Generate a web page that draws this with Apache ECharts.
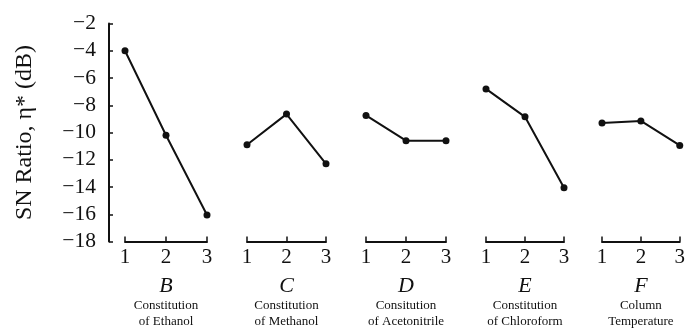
<!DOCTYPE html>
<html>
<head>
<meta charset="utf-8">
<script src="https://cdn.jsdelivr.net/npm/echarts@6/dist/echarts.min.js"></script>
<style>html,body{margin:0;padding:0;background:#fff;}#c{width:688px;height:333px;}</style>
</head>
<body>
<div id="c"></div>
<script>
const levels = [1, 2, 3];
const valuesB = [-4.0, -10.2, -16.05];
const valuesC = [-10.9, -8.65, -12.3];
const valuesD = [-8.75, -10.6, -10.6];
const valuesE = [-6.8, -8.85, -14.05];
const valuesF = [-9.3, -9.15, -10.95];
const factorLetters = ['B', 'C', 'D', 'E', 'F'];
const factorLine1 = ['Constitution', 'Constitution', 'Consitution', 'Constitution', 'Column'];
const factorLine2 = ['of Ethanol', 'of Methanol', 'of Acetonitrile', 'of Chloroform', 'Temperature'];
const yTicks = [-18, -16, -14, -12, -10, -8, -6, -4, -2];
const yTitle = 'SN Ratio, \u03b7* (dB)';

const allValues = [valuesB, valuesC, valuesD, valuesE, valuesF];
const gridLefts = [125, 247, 366, 486, 602];
const gridRights = [207, 326, 446, 564, 683];
const serif = '"Liberation Serif", "DejaVu Serif", serif';
const ink = '#111';

const grids = [], xAxes = [], yAxes = [], series = [];
allValues.forEach((vals, i) => {
  grids.push({left: gridLefts[i], width: gridRights[i] - gridLefts[i], top: 23.5, bottom: 87, containLabel: false});
  xAxes.push({
    gridIndex: i, type: 'value', min: 1, max: 3, interval: 1,
    axisLine: {show: true, lineStyle: {color: ink, width: 2}},
    axisTick: {show: true, inside: true, length: 5, lineStyle: {color: ink, width: 1.5}},
    splitLine: {show: false},
    axisLabel: {color: ink, fontFamily: serif, fontSize: 21, margin: 5, showMinLabel: true, showMaxLabel: true},
    name: '{f|' + factorLetters[i] + '}\n{d|' + factorLine1[i] + '}\n{d|' + factorLine2[i] + '}',
    nameLocation: 'middle', nameGap: 34,
    nameTextStyle: {
      align: 'center',
      rich: {
        f: {fontFamily: serif, fontStyle: 'italic', fontSize: 22, lineHeight: 22, color: ink, align: 'center'},
        d: {fontFamily: serif, fontSize: 13, lineHeight: 16, color: ink, align: 'center'}
      }
    }
  });
  const isFirst = i === 0;
  yAxes.push({
    gridIndex: i, type: 'value', min: yTicks[0], max: yTicks[yTicks.length - 1], interval: 2,
    show: isFirst,
    offset: isFirst ? 16 : 0,
    axisLine: {show: isFirst, lineStyle: {color: ink, width: 2}},
    axisTick: {show: isFirst, inside: true, length: 4, lineStyle: {color: ink, width: 1.5}},
    splitLine: {show: false},
    axisLabel: {show: isFirst, color: ink, fontFamily: serif, fontSize: 21.5, margin: 13,
      formatter: v => String(v).replace('-', '\u2212')},
    name: isFirst ? yTitle : '',
    nameLocation: 'middle', nameGap: 72, nameRotate: 90,
    nameTextStyle: {fontFamily: serif, fontSize: 24, color: ink}
  });
  series.push({
    type: 'line', xAxisIndex: i, yAxisIndex: i,
    data: levels.map((l, k) => [l, vals[k]]),
    symbol: 'circle', symbolSize: 7,
    lineStyle: {color: ink, width: 2},
    itemStyle: {color: ink},
    animation: false, silent: true
  });
});

const chart = echarts.init(document.getElementById('c'), null, {renderer: 'canvas'});
chart.setOption({
  backgroundColor: '#fff',
  animation: false,
  grid: grids, xAxis: xAxes, yAxis: yAxes, series: series
});
</script>
</body>
</html>
